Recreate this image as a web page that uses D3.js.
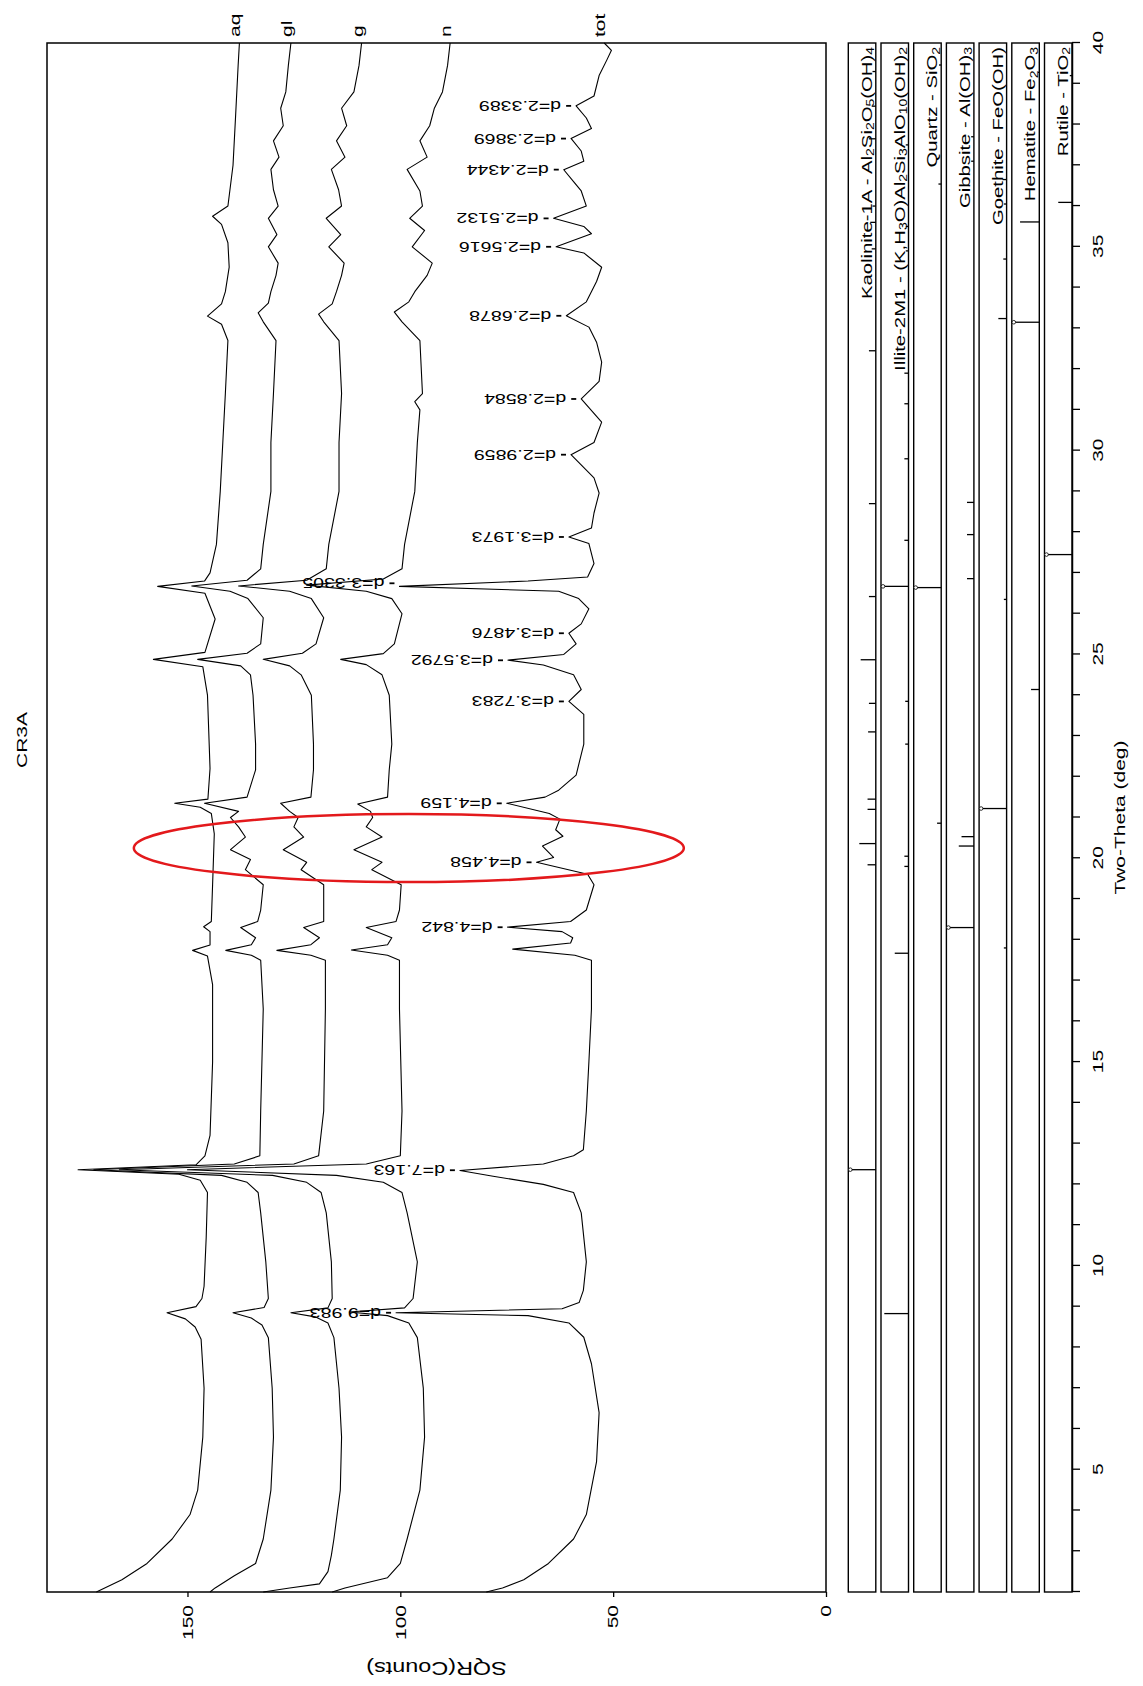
<!DOCTYPE html>
<html>
<head>
<meta charset="utf-8">
<script src="https://cdnjs.cloudflare.com/ajax/libs/d3/7.8.5/d3.min.js"></script>
<style>
  body { margin: 0; background: #fff; }
  svg { display: block; }
  text { font-family: "Liberation Sans", Arial, sans-serif; fill: #000; }
</style>
</head>
<body>
<svg id="chart" width="1143" height="1686"></svg>
<script>
// scans, [two-theta, SQR(counts)]
var aq = [[2.0,171.4],[2.3,165.4],[2.7,159.5],[3.3,153.6],[3.9,149.4],[4.5,147.6],[5.8,146.4],[7.0,146.1],[8.2,146.8],[8.5,148.2],[8.7,150.5],[8.85,154.8],[9.0,148],[9.2,146.6],[9.5,146.1],[10.7,145.6],[11.8,145.3],[12.1,147],[12.25,152],[12.36,175.7],[12.48,148],[12.7,145.9],[13.2,144.7],[15.0,144.1],[16.9,144.1],[17.6,145.3],[17.74,148.8],[17.87,144.7],[18.2,144.7],[18.32,146.2],[18.45,144.4],[19.35,144.1],[20.6,143.7],[21.1,144.4],[21.25,147],[21.35,153],[21.45,145.2],[22.2,144.7],[24.0,145.3],[24.7,146.4],[24.88,158],[25.05,145.9],[25.87,143.5],[26.5,145.9],[26.67,157],[26.8,146],[27.0,144.7],[27.7,143.2],[29.0,142.3],[30.2,141.7],[31.4,141.1],[32.7,140.5],[33.1,142],[33.3,145.3],[33.6,142],[33.9,141.1],[34.5,140.2],[35.1,140.5],[35.55,142],[35.75,144.1],[36.0,140.5],[37.0,139.3],[38.2,138.7],[39.45,138.1],[40.0,137.8]];

var gl = [[2.0,144.7],[2.1,143.5],[2.4,139],[2.7,134],[3.3,132.2],[4.5,130.4],[5.8,129.8],[7.0,130.1],[8.24,131],[8.55,132.5],[8.72,135],[8.85,139.3],[8.98,132],[9.2,131],[10.1,131.6],[11.3,132.8],[11.8,133.4],[12.05,136],[12.22,142],[12.36,172],[12.5,139],[12.7,133],[13.8,132.8],[16.3,132.2],[17.5,132.8],[17.62,135],[17.74,141],[17.88,135],[18.05,134],[18.3,137.5],[18.45,133.5],[18.73,132.8],[19.35,132.2],[19.72,136.4],[19.97,135.2],[20.21,139.9],[20.52,136.4],[20.77,138],[21.0,139.9],[21.15,138],[21.35,146],[21.5,136],[22.17,134],[22.8,134],[24.0,134.6],[24.5,135.2],[24.72,137.5],[24.88,147.6],[25.03,136],[25.26,132.8],[25.9,132.2],[26.37,135.8],[26.55,140],[26.68,149],[26.82,136],[27.1,132.8],[27.7,132.2],[29.0,130.4],[30.2,130.4],[31.4,129.8],[32.7,129.2],[33.16,132.2],[33.38,133.4],[33.62,131],[33.9,130.4],[34.3,129.2],[34.6,128.7],[35.0,131],[35.3,129],[35.7,131],[36.0,128.7],[36.4,129.8],[36.9,130.4],[37.2,128.5],[37.6,129.8],[37.97,127.5],[38.4,128.1],[38.8,126.9],[39.45,126.3],[40.0,125.7]];

var gv = [[2.0,132.2],[2.1,126],[2.2,119],[2.5,117],[2.9,116.2],[3.3,115.6],[4.5,114.1],[5.8,113.8],[7.0,114.4],[8.24,115.6],[8.6,117],[8.75,120],[8.85,125.7],[8.97,117],[9.2,116],[10.1,116.2],[11.3,117.4],[11.8,118.6],[12.05,122],[12.22,130],[12.36,166],[12.5,125],[12.7,119.2],[13.8,118],[16.3,117.6],[17.5,117.6],[17.62,121],[17.74,129],[17.88,121],[18.05,119],[18.3,122.7],[18.45,118],[18.73,118],[19.35,118],[19.72,123.3],[19.9,122],[20.21,127.5],[20.52,122.7],[20.77,125],[21.0,124],[21.15,126],[21.35,128.1],[21.5,121],[22.17,120.4],[22.8,120.4],[24.0,120.9],[24.5,123.3],[24.72,126],[24.88,132.2],[25.03,123],[25.26,119.8],[25.9,118],[26.37,120.9],[26.55,126],[26.68,138],[26.82,122],[27.1,117.4],[27.7,116.8],[29.0,114.4],[30.2,114.4],[31.4,113.8],[32.7,114.4],[33.16,118],[33.35,119.2],[33.6,116],[33.9,115],[34.3,113.8],[34.6,113.2],[35.0,116.8],[35.3,114],[35.7,117.4],[36.0,113.8],[36.4,114.5],[36.9,116.2],[37.2,113],[37.6,115],[37.97,112.6],[38.4,113.8],[38.8,110.9],[39.45,109.7],[40.0,109.1]];

var nv = [[2.0,116],[2.1,113],[2.35,103],[2.7,100],[3.3,98.4],[4.5,95.4],[5.8,94.3],[7.0,94.6],[8.24,96],[8.6,98],[8.78,103],[8.87,112],[8.97,99],[9.2,97],[10.1,96],[11.3,98.4],[11.8,99.6],[12.05,104],[12.22,115],[12.36,150],[12.5,108],[12.7,100],[13.8,99.6],[16.3,100.2],[17.5,100.2],[17.62,103],[17.75,111.5],[17.88,103],[18.05,102],[18.3,108],[18.45,101],[18.73,100.2],[19.35,99.8],[19.72,106.7],[19.9,104.3],[20.21,110.9],[20.52,104.3],[20.77,108],[21.0,106.5],[21.15,107],[21.33,110],[21.5,103],[22.17,102.6],[22.8,102],[24.0,102.6],[24.5,104.3],[24.75,108],[24.88,114],[25.02,104],[25.26,101.4],[26.0,99.6],[26.37,102],[26.55,108],[26.7,122],[26.85,104],[27.1,99.6],[27.7,99],[29.0,96.6],[30.2,96],[31.0,95.4],[31.2,96.6],[31.4,94.8],[32.7,95.4],[33.16,99.6],[33.4,101.4],[33.65,98],[33.9,96.6],[34.3,93.7],[34.6,92.5],[35.0,97.2],[35.4,94.3],[35.7,97.8],[36.0,94.8],[36.37,95.4],[36.9,98.4],[37.2,93.7],[37.6,95.4],[37.97,93.1],[38.4,92],[38.8,90.1],[39.45,88.9],[40.0,88.3]];

var tot = [[2.0,79.8],[2.1,76],[2.3,71],[2.7,65.2],[3.3,59.3],[3.9,56.3],[5.2,53.9],[6.4,53.3],[7.6,55.1],[8.25,56.9],[8.6,60.4],[8.78,70],[8.85,101],[8.95,62],[9.1,58],[9.4,57],[10.1,56.3],[11.3,57.5],[11.8,59.3],[12.0,66.4],[12.2,78.2],[12.34,86],[12.5,66.4],[12.7,59.3],[12.85,57],[13.8,56.3],[15.0,55.7],[16.3,55.1],[17.5,55.1],[17.62,59],[17.77,73.6],[17.92,60],[18.05,59.5],[18.2,62],[18.31,74.8],[18.45,60],[18.73,56.3],[19.35,54.5],[19.61,56],[19.9,68],[20.02,64],[20.3,66.6],[20.54,61.8],[20.7,63.5],[20.96,62.5],[21.1,65],[21.35,75],[21.5,66],[21.67,62.8],[22.04,58.7],[22.8,56.9],[23.53,56.9],[23.85,60.4],[24.14,57.5],[24.5,59.3],[24.74,66.4],[24.86,74.7],[25.0,61.6],[25.26,58.7],[25.52,60.4],[25.75,57.5],[26.12,55.7],[26.37,58.1],[26.55,62.8],[26.67,100.2],[26.8,70],[26.9,56],[27.23,54.5],[27.72,55.7],[27.88,60.4],[28.1,55.1],[28.47,54.5],[28.96,53.3],[29.33,54.5],[29.9,59.9],[30.2,54.5],[30.7,52.7],[31.27,57.5],[31.7,53.3],[32.17,52.7],[32.66,53.9],[33.03,55.7],[33.31,61],[33.65,56.3],[34.15,53.9],[34.5,52.7],[34.85,56.9],[35.0,63.4],[35.32,55.1],[35.5,56.9],[35.7,64],[36.0,56.3],[36.37,57.5],[36.6,59.3],[36.89,61.6],[37.1,56.9],[37.35,57.5],[37.66,59.9],[37.9,55.1],[38.16,56.3],[38.46,58.7],[38.7,54.5],[39.2,53.3],[39.58,51.5],[39.82,50.4],[40.0,52.1]];

var scanNames = ["aq", "gl", "g", "n", "tot"];
var scans = [aq, gl, gv, nv, tot];

// peak labels on the tot scan (d in Angstrom)
var dLabels = ["9.983", "7.163", "4.842", "4.458", "4.159", "3.7283", "3.5792", "3.4876", "3.3305", "3.1973",
               "2.9859", "2.8584", "2.6878", "2.5616", "2.5132", "2.4344", "2.3869", "2.3389"];

// reference phases: [two-theta, relative height]
var phaseNames = ["Kaolinite-1A - Al_2Si_2O_5(OH)_4", "Illite-2M1 - (K,H_3O)Al_2Si_3AlO_10(OH)_2", "Quartz - SiO_2",
                  "Gibbsite - Al(OH)_3", "Goethite - FeO(OH)", "Hematite - Fe_2O_3", "Rutile - TiO_2"];
var kaolinite = [[12.36,1],[19.84,0.3],[20.36,0.6],[21.2,0.3],[21.45,0.3],[23.1,0.28],[23.8,0.25],[24.87,0.55],[26.42,0.25],[28.7,0.25],[32.45,0.25],[34.95,0.15],[35.6,0.2],[36.0,0.12],[37.65,0.25],[38.45,0.15],[39.3,0.12]];
var illite = [[8.83,0.88],[17.67,0.5],[19.8,0.15],[20.05,0.15],[22.8,0.12],[23.85,0.12],[26.67,1],[27.8,0.15],[29.8,0.15],[31.15,0.15],[31.9,0.15],[34.9,0.1],[35.5,0.1],[37.5,0.1]];
var quartz = [[20.86,0.15],[26.64,1],[36.54,0.1],[39.46,0.08]];
var gibbsite = [[18.3,1],[20.3,0.55],[20.53,0.45],[26.86,0.25],[27.94,0.25],[28.73,0.25],[37.1,0.1],[37.7,0.1]];
var goethite = [[17.8,0.1],[21.22,1],[26.35,0.1],[33.24,0.3],[34.7,0.12],[36.05,0.1],[36.65,0.15]];
var hematite = [[24.14,0.3],[33.15,1],[35.61,0.7],[39.28,0.05]];
var rutile = [[27.45,1],[36.09,0.5],[39.2,0.08]];
var phaseSticks = [kaolinite, illite, quartz, gibbsite, goethite, hematite, rutile];

var countTicks = [0, 50, 100, 150];
var LAMBDA = 1.5406; // Cu K-alpha

// the chart is drawn upright and then turned a quarter turn, like the scan
var W = 1686;
var svg = d3.select("#chart");
var root = svg.append("g").attr("transform", "translate(0," + W + ") rotate(-90)");

var x = d3.scaleLinear().domain([2, 40]).range([94, 1643]),
    y = d3.scaleLinear().domain([0, 183]).range([826, 47]);

var SX = 1.4; // the scan's lettering is wide

function wideText(sel, px, py, size, anchor) {
    return sel.append("text")
        .attr("transform", "translate(" + px + "," + py + ") scale(" + SX + ",1)")
        .attr("font-size", size)
        .attr("text-anchor", anchor);
}

// title
wideText(root, 946, 27, 15, "middle").text("CR3A");

// plot frame
root.append("rect")
    .attr("x", x(2)).attr("y", y(183))
    .attr("width", x(40) - x(2)).attr("height", y(0) - y(183))
    .attr("fill", "none").attr("stroke", "#000").attr("stroke-width", 1.5);

// counts axis
var yAxis = root.append("g")
    .attr("transform", "translate(" + x(2) + ",0)")
    .call(d3.axisLeft(y).tickValues(countTicks).tickSize(5).tickSizeOuter(0));
yAxis.select(".domain").remove();
yAxis.selectAll("line").attr("stroke-width", 1.3);
yAxis.selectAll("text")
    .attr("font-size", 15)
    .attr("x", -13 / SX)
    .attr("transform", "scale(" + SX + ",1)");

root.append("text")
    .attr("transform", "translate(24," + (y(0) + y(183)) / 2 + ") rotate(-90) scale(1.3,1)")
    .attr("font-size", 18)
    .attr("text-anchor", "middle")
    .text("SQR(Counts)");

// scans
var line = d3.line().x(d => x(d[0])).y(d => y(d[1]));
root.selectAll(".scan")
    .data(scans)
    .enter()
    .append("path")
    .attr("class", "scan")
    .attr("d", line)
    .attr("fill", "none")
    .attr("stroke", "#000")
    .attr("stroke-width", 1.1)
    .attr("stroke-linejoin", "round");

scans.forEach(function (s, i) {
    wideText(root, x(40) + 6, y(s[s.length - 1][1]) + 1, 15, "start").text(scanNames[i]);
});

// d-spacing labels above the tot peaks
function tipOf(t) {
    var best = 0;
    tot.forEach(function (p) {
        if (Math.abs(p[0] - t) <= 0.2 && p[1] > best) best = p[1];
    });
    return best;
}
dLabels.forEach(function (d) {
    var t = 2 * Math.asin(LAMBDA / (2 * +d)) * 180 / Math.PI,
        tip = y(tipOf(t));
    root.append("line")
        .attr("x1", x(t)).attr("x2", x(t))
        .attr("y1", tip - 5).attr("y2", tip - 10)
        .attr("stroke", "#000").attr("stroke-width", 1.8);
    root.append("text")
        .attr("transform", "translate(" + x(t) + "," + (tip - 15) + ") rotate(-90) scale(1.4,1)")
        .attr("font-size", 14)
        .attr("dy", "0.36em")
        .text("d=" + d);
});

// highlight ring
root.append("ellipse")
    .attr("cx", x(20.25)).attr("cy", y(98))
    .attr("rx", 34).attr("ry", 275)
    .attr("fill", "none").attr("stroke", "#e3191c").attr("stroke-width", 2.5);

// phase stick panels
var PANEL_H = 27.5, PANEL_STEP = 32.7, AXIS_Y = 1072;
phaseNames.forEach(function (name, i) {
    var bottom = AXIS_Y - (phaseNames.length - 1 - i) * PANEL_STEP,
        top = bottom - PANEL_H,
        panel = root.append("g");
    panel.append("rect")
        .attr("x", x(2)).attr("y", top)
        .attr("width", x(40) - x(2)).attr("height", PANEL_H)
        .attr("fill", "none").attr("stroke", "#000").attr("stroke-width", 1.4);
    panel.selectAll("line")
        .data(phaseSticks[i])
        .enter()
        .append("line")
        .attr("x1", d => x(d[0])).attr("x2", d => x(d[0]))
        .attr("y1", bottom).attr("y2", d => bottom - d[1] * PANEL_H)
        .attr("stroke", "#000").attr("stroke-width", 1.3);
    panel.selectAll("circle")
        .data(phaseSticks[i].filter(d => d[1] === 1))
        .enter()
        .append("circle")
        .attr("cx", d => x(d[0])).attr("cy", top + 2)
        .attr("r", 1.8)
        .attr("fill", "#fff").attr("stroke", "#000").attr("stroke-width", 0.8);
    var label = wideText(panel, x(40) - 4, bottom - 4, 14.5, "end");
    name.split(/(_\d+)/).forEach(function (part) {
        if (!part) return;
        if (part[0] === "_") {
            label.append("tspan").attr("font-size", 10).attr("baseline-shift", "-25%").text(part.slice(1));
        } else {
            label.append("tspan").text(part);
        }
    });
});

// two-theta axis under the panels
var xAxis = root.append("g")
    .attr("transform", "translate(0," + AXIS_Y + ")")
    .call(d3.axisBottom(x).tickValues(d3.range(2, 41)).tickSize(8).tickSizeOuter(0)
        .tickFormat(d => d % 5 === 0 ? d : ""));
xAxis.select(".domain").attr("stroke-width", 1.5);
xAxis.selectAll("line").attr("stroke-width", 1.3);
xAxis.selectAll("text")
    .attr("font-size", 15)
    .attr("y", 31).attr("dy", null)
    .attr("transform", "scale(" + SX + ",1)");

wideText(root, x(21), 1125, 15, "middle").text("Two-Theta (deg)");
</script>
</body>
</html>
